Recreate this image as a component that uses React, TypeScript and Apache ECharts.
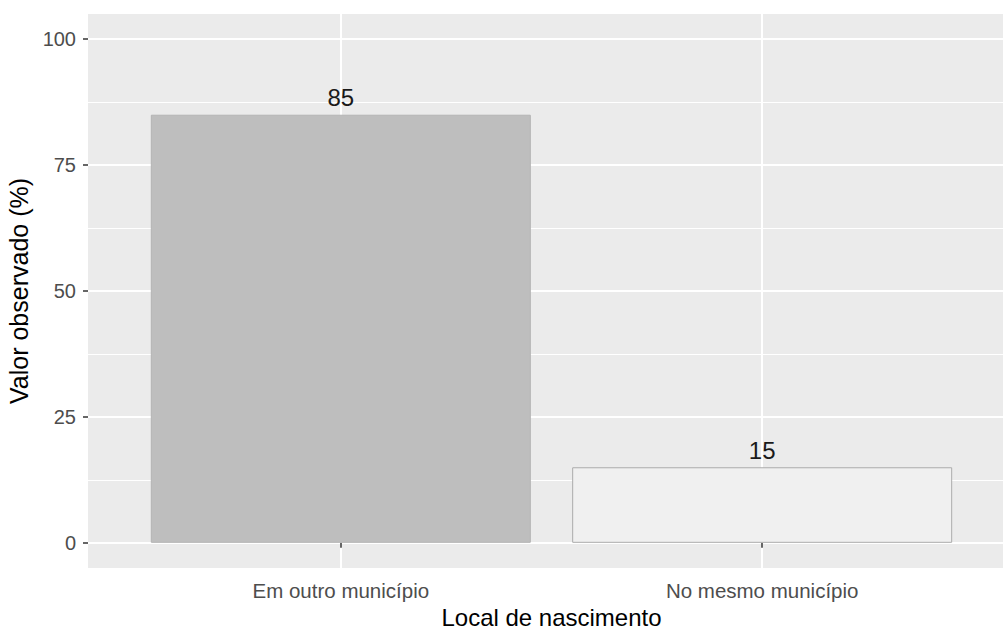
import React, { useEffect, useRef } from "react";
import * as echarts from "echarts";

const categories = ["Em outro município", "No mesmo município"];
const values = [85, 15];
const barColors = ["#BEBEBE", "#F0F0F0"];
const barBorders = ["#B4B4B4", "#ABABAB"];
const yTicks = [0, 25, 50, 75, 100];
const yMinorTicks = [12.5, 37.5, 62.5, 87.5];
const xTicks = [1, 2];

const FONT = "Liberation Sans";

export default function App() {
  const ref = useRef<HTMLDivElement>(null);
  useEffect(() => {
    if (!ref.current) return;
    const chart = echarts.init(ref.current, null, { renderer: "svg" });
    chart.setOption({
      animation: false,
      backgroundColor: "#FFFFFF",
      textStyle: { fontFamily: FONT },
      grid: {
        left: 88,
        top: 14,
        width: 927,
        height: 554,
        show: true,
        backgroundColor: "#EBEBEB",
        borderWidth: 0,
        containLabel: false,
        outerBoundsMode: "none",
      },
      xAxis: {
        type: "value",
        min: 0.4,
        max: 2.6,
        name: "Local de nascimento",
        nameLocation: "middle",
        nameGap: 31,
        nameTextStyle: {
          fontFamily: FONT,
          fontSize: 24,
          lineHeight: 24,
          color: "#000000",
        },
        axisLine: { show: false },
        axisTick: {
          show: true,
          customValues: xTicks,
          length: 5,
          lineStyle: { color: "#333333", width: 1.5 },
        },
        axisLabel: {
          customValues: xTicks,
          formatter: (v: number) => categories[Math.round(v) - 1] ?? "",
          fontFamily: FONT,
          fontSize: 20.5,
          color: "#4D4D4D",
          margin: 12,
        },
        splitLine: { show: true, lineStyle: { color: "#FFFFFF", width: 2 } },
      },
      yAxis: {
        type: "value",
        min: -5,
        max: 105,
        name: "Valor observado (%)",
        nameLocation: "middle",
        nameGap: 54,
        nameTextStyle: { fontFamily: FONT, fontSize: 25, color: "#000000" },
        axisLine: { show: false },
        axisTick: {
          show: true,
          customValues: yTicks,
          length: 5,
          lineStyle: { color: "#333333", width: 1.5 },
        },
        axisLabel: {
          customValues: yTicks,
          fontFamily: FONT,
          fontSize: 20,
          color: "#4D4D4D",
          margin: 12,
        },
        splitLine: { show: true, lineStyle: { color: "#FFFFFF", width: 2 } },
      },
      series: [
        {
          type: "line",
          data: [],
          z: 1,
          silent: true,
          markLine: {
            z: 1,
            silent: true,
            symbol: "none",
            label: { show: false },
            lineStyle: { color: "#FFFFFF", width: 1, type: "solid" },
            data: yMinorTicks.map((v) => ({ yAxis: v })),
          },
        },
        {
          type: "bar",
          z: 6,
          barWidth: 380,
          data: categories.map((c, i) => ({
            value: [xTicks[i], values[i]],
            itemStyle: {
              color: barColors[i],
              borderColor: barBorders[i],
              borderWidth: 1,
            },
          })),
          label: {
            show: true,
            position: "top",
            distance: 5,
            fontFamily: FONT,
            fontSize: 24,
            color: "#1A1A1A",
            formatter: (p: any) => String(p.value[1]),
          },
        },
      ],
    });
    return () => chart.dispose();
  }, []);
  return (
    <div
      ref={ref}
      style={{ position: "fixed", left: 0, top: 0, width: 1003, height: 630 }}
    />
  );
}
